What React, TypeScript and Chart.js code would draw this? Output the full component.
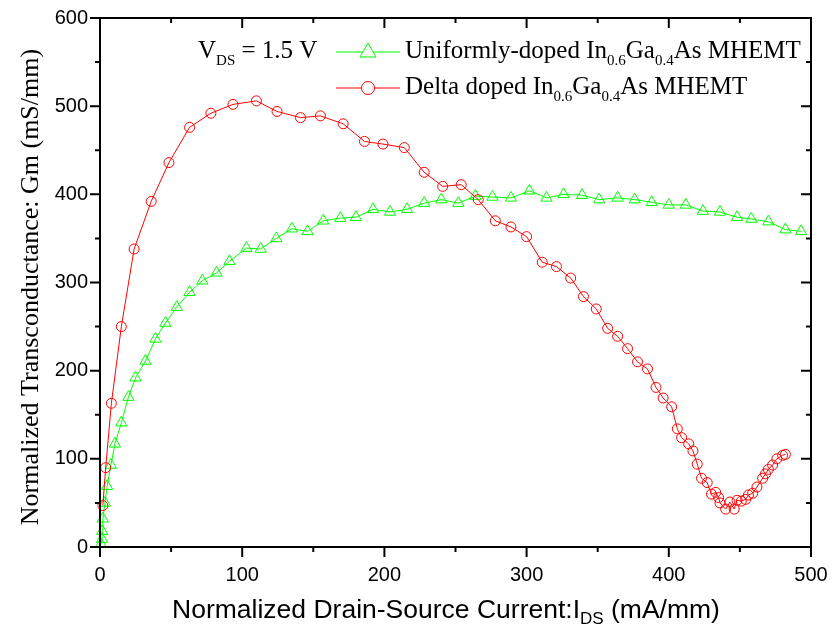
import React, { useEffect, useRef } from "react";
import { Chart, registerables } from "chart.js";

Chart.register(...registerables);

// Uniformly-doped In0.6Ga0.4As MHEMT (green triangles)
const uniformX = [0.7, 1.4, 1.6, 2, 3.5, 5, 7.7, 10.5, 15, 20, 25, 32, 39, 46, 54, 63, 72, 82, 91, 103, 113, 124, 135, 146, 157, 169, 180, 192, 204, 216, 228, 240, 252, 264, 276, 289, 302, 314, 326, 339, 351, 364, 376, 388, 400, 412, 424, 436, 448, 458, 470, 482, 493];
const uniformY = [3, 9, 18, 32, 50, 69, 93, 117, 141, 170, 192, 211, 236, 254, 272, 289, 302, 311, 324, 339, 338, 350, 361, 358, 370, 373, 374, 383, 380, 383, 390, 394, 390, 398, 397, 396, 404, 396, 400, 399, 394, 396, 394, 391, 388, 388, 381, 380, 374, 372, 369, 360, 358];

// Delta doped In0.6Ga0.4As MHEMT (red circles)
const deltaX = [2, 4, 8, 15, 24, 36, 48.5, 63, 78, 93.5, 110, 124.5, 141, 155, 171, 186, 199, 214, 228, 241, 254, 266, 278, 289, 300, 311, 321, 331, 340, 349, 357, 364, 371, 378, 385, 391, 396, 402, 406, 409, 414, 417, 420, 423, 427, 430, 433, 435, 436, 440, 443, 446, 448, 451, 454, 456, 459, 462, 466, 468, 470, 473, 476, 480, 482];
const deltaY = [47, 90, 163, 250, 338, 392, 436, 476, 492, 502, 506, 494, 487, 489, 480, 460, 457, 453, 425, 409, 411, 394, 370, 363, 352, 323, 318, 305, 284, 270, 248, 239, 225, 210, 202, 181, 169, 159, 134, 124, 117, 109, 94, 78, 73, 60, 62, 56, 50, 43, 51, 43, 53, 52, 54, 59, 61, 68, 78, 83, 88, 93, 100, 104, 105];

const xTickValues = [0, 100, 200, 300, 400, 500];
const yTickValues = [0, 100, 200, 300, 400, 500, 600];

const SANS = "'Liberation Sans', Arial, sans-serif";
const SERIF = "'Liberation Serif', 'Times New Roman', serif";

type Seg = { t: string; sub?: boolean };

function drawSegs(ctx: CanvasRenderingContext2D, segs: Seg[], x: number, y: number, size: number, subSize: number, family: string, subDrop: number, align: "left" | "center") {
  let total = 0;
  const widths = segs.map((s) => {
    ctx.font = `${s.sub ? subSize : size}px ${family}`;
    const w = ctx.measureText(s.t).width;
    total += w;
    return w;
  });
  let cx = align === "center" ? x - total / 2 : x;
  ctx.textAlign = "left";
  ctx.textBaseline = "alphabetic";
  segs.forEach((s, i) => {
    ctx.font = `${s.sub ? subSize : size}px ${family}`;
    ctx.fillText(s.t, cx, s.sub ? y + subDrop : y);
    cx += widths[i];
  });
}

const decorPlugin = {
  id: "decor",
  afterDraw(chart: any) {
    const ctx: CanvasRenderingContext2D = chart.ctx;
    const { left, right, top, bottom } = chart.chartArea;
    const xs = chart.scales.x;
    const ys = chart.scales.y;
    ctx.save();
    ctx.strokeStyle = "#000";
    ctx.fillStyle = "#000";
    ctx.lineWidth = 2;
    ctx.strokeRect(left, top, right - left, bottom - top);
    // ticks
    ctx.beginPath();
    for (let v = 0; v <= 500; v += 50) {
      const px = xs.getPixelForValue(v);
      const len = v % 100 === 0 ? 10 : 5;
      ctx.moveTo(px, bottom);
      ctx.lineTo(px, bottom + len);
      ctx.moveTo(px, top);
      ctx.lineTo(px, top + len);
    }
    for (let v = 0; v <= 600; v += 50) {
      const py = ys.getPixelForValue(v);
      const len = v % 100 === 0 ? 10 : 5;
      ctx.moveTo(left, py);
      ctx.lineTo(left - len, py);
      ctx.moveTo(right, py);
      ctx.lineTo(right - len, py);
    }
    ctx.stroke();

    // x title
    drawSegs(ctx, [
      { t: "Normalized Drain-Source Current:I" },
      { t: "DS", sub: true },
      { t: " (mA/mm)" },
    ], 446, 618, 26.5, 17, SANS, 6, "center");

    // y title
    ctx.save();
    ctx.translate(38, 287);
    ctx.rotate(-Math.PI / 2);
    drawSegs(ctx, [{ t: "Normalized Transconductance: Gm (mS/mm)" }], 0, 0, 26, 16, SERIF, 0, "center");
    ctx.restore();

    // legend
    const lx1 = 336, lx2 = 400, mx = 368;
    const row1 = 52, row2 = 88;
    drawSegs(ctx, [{ t: "V" }, { t: "DS", sub: true }, { t: " = 1.5 V" }], 198, 58, 25, 15, SERIF, 7, "left");
    ctx.lineWidth = 1;
    ctx.strokeStyle = "#00ff00";
    ctx.beginPath();
    ctx.moveTo(lx1, row1);
    ctx.lineTo(lx2, row1);
    ctx.stroke();
    ctx.fillStyle = "#fff";
    ctx.beginPath();
    ctx.moveTo(mx, row1 - 9);
    ctx.lineTo(mx + 8, row1 + 5);
    ctx.lineTo(mx - 8, row1 + 5);
    ctx.closePath();
    ctx.fill();
    ctx.stroke();
    ctx.strokeStyle = "#ff0000";
    ctx.beginPath();
    ctx.moveTo(lx1, row2);
    ctx.lineTo(lx2, row2);
    ctx.stroke();
    ctx.beginPath();
    ctx.arc(mx, row2, 6.5, 0, Math.PI * 2);
    ctx.fill();
    ctx.stroke();
    ctx.fillStyle = "#000";
    drawSegs(ctx, [
      { t: "Uniformly-doped In" }, { t: "0.6", sub: true }, { t: "Ga" }, { t: "0.4", sub: true }, { t: "As MHEMT" },
    ], 405, 58, 25, 15, SERIF, 7, "left");
    drawSegs(ctx, [
      { t: "Delta doped In" }, { t: "0.6", sub: true }, { t: "Ga" }, { t: "0.4", sub: true }, { t: "As MHEMT" },
    ], 405, 94, 25, 15, SERIF, 7, "left");
    ctx.restore();
  },
};

export default function App() {
  const ref = useRef<HTMLCanvasElement | null>(null);
  useEffect(() => {
    if (!ref.current) return;
    const chart = new Chart(ref.current, {
      type: "scatter",
      data: {
        datasets: [
          {
            label: "Delta doped",
            data: deltaX.map((x, i) => ({ x, y: deltaY[i] })),
            showLine: true,
            borderColor: "#ff0000",
            borderWidth: 1,
            pointStyle: "circle",
            pointRadius: 5,
            pointBorderWidth: 1,
            pointBorderColor: "#ff0000",
            pointBackgroundColor: "rgba(0,0,0,0)",
            clip: false as any,
          },
          {
            label: "Uniformly-doped",
            data: uniformX.map((x, i) => ({ x, y: uniformY[i] })),
            showLine: true,
            borderColor: "#00ff00",
            borderWidth: 1,
            pointStyle: "triangle",
            pointRadius: 6.5,
            pointBorderWidth: 1,
            pointBorderColor: "#00ff00",
            pointBackgroundColor: "rgba(0,0,0,0)",
            clip: false as any,
          },
        ],
      },
      options: {
        animation: false,
        responsive: false,
        maintainAspectRatio: false,
        layout: { padding: { top: 18, right: 21, left: 0, bottom: 0 } },
        plugins: { legend: { display: false }, tooltip: { enabled: false } },
        scales: {
          x: {
            type: "linear",
            min: 0,
            max: 500,
            afterBuildTicks: (s: any) => { s.ticks = xTickValues.map((v) => ({ value: v })); },
            afterFit: (s: any) => { s.height = 93; s.paddingLeft = 0; s.paddingRight = 0; },
            ticks: { color: "#000", font: { family: SANS, size: 20 }, padding: 16, maxRotation: 0 },
            grid: { display: false, drawTicks: false },
            border: { display: false },
          },
          y: {
            type: "linear",
            min: 0,
            max: 600,
            afterBuildTicks: (s: any) => { s.ticks = yTickValues.map((v) => ({ value: v })); },
            afterFit: (s: any) => { s.width = 100; s.paddingTop = 0; s.paddingBottom = 0; },
            ticks: { color: "#000", font: { family: SANS, size: 20 }, padding: 12 },
            grid: { display: false, drawTicks: false },
            border: { display: false },
          },
        },
      },
      plugins: [decorPlugin],
    });
    return () => chart.destroy();
  }, []);
  return (
    <div style={{ position: "fixed", left: 0, top: 0, width: 832, height: 640, background: "#fff" }}>
      <canvas ref={ref} width={832} height={640} style={{ width: 832, height: 640 }} />
    </div>
  );
}
